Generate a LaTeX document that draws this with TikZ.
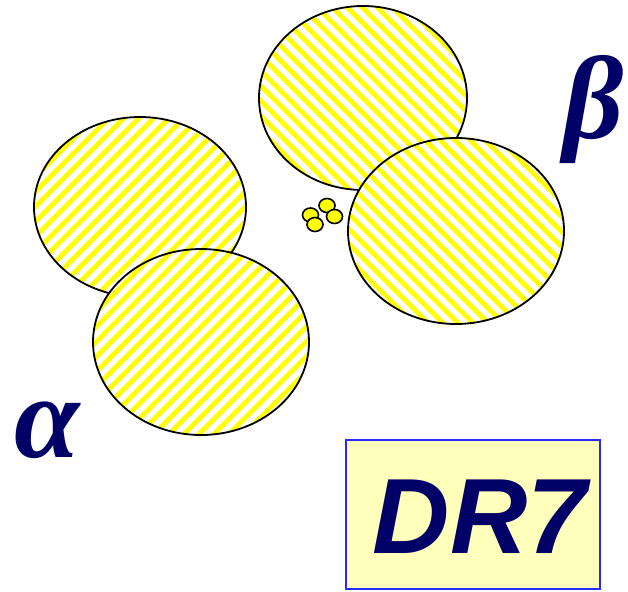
\documentclass[tikz,border=0pt]{standalone}
\usepackage{fontspec}
\setmainfont{Liberation Serif}
\setsansfont{Liberation Sans}
\usetikzlibrary{shapes.geometric}
\definecolor{navy}{RGB}{0,0,102}
\definecolor{stripe}{RGB}{255,255,0}
\definecolor{boxfill}{RGB}{255,255,187}
\definecolor{boxline}{RGB}{40,40,255}
\tikzset{
  blob/.style={ellipse, draw=black, line width=1.8pt, fill=white, inner sep=0pt},
  hatchNE/.style={path picture={
    \foreach \k in {-25,...,25}{
      \draw[stripe, line width=4.8pt] ([xshift=\k*15pt-150pt, yshift=-150pt]path picture bounding box.center) -- ++(300pt,300pt);
    }}},
  hatchNW/.style={path picture={
    \foreach \k in {-25,...,25}{
      \draw[stripe, line width=4.8pt] ([xshift=\k*15pt-150pt, yshift=150pt]path picture bounding box.center) -- ++(300pt,-300pt);
    }}},
  dot/.style={ellipse, draw=black, line width=1.6pt, fill=stripe, minimum width=16pt, minimum height=14pt, inner sep=0pt},
  greek/.style={text=navy, font=\fontsize{118}{118}\selectfont\bfseries\itshape, inner sep=0pt},
}
\begin{document}
\begin{tikzpicture}[x=1pt,y=-1pt]
\useasboundingbox (0,0) rectangle (628,591);
% left pair
\node[blob, hatchNE, minimum width=212pt, minimum height=180pt] (lt) at (140,207) {};
\node[blob, hatchNE, minimum width=216pt, minimum height=186pt] (lb) at (201,342) {};
% right pair
\node[blob, hatchNW, minimum width=208pt, minimum height=184pt] (rt) at (363,98) {};
\node[blob, hatchNW, minimum width=216pt, minimum height=186pt] (rb) at (456,231) {};
% small dots
\node[dot] (d1) at (310.5,215) {};
\node[dot] (d2) at (315,224.5) {};
\node[dot] (d3) at (327,205.5) {};
\node[dot] (d4) at (334.5,216.5) {};
% labels
\node[greek] (alpha) at (47,430) {α};
\node[greek] (beta) at (594,110) {β};
% DR7 box
\node[draw=boxline, line width=1.3pt, fill=boxfill, minimum width=254pt, minimum height=149pt, inner sep=0pt] (box) at (473,514.5) {};
\node[text=navy, font=\sffamily\bfseries\itshape\fontsize{107}{107}\selectfont, inner sep=0pt] (dr) at (480,516.5) {DR7};
\end{tikzpicture}
\end{document}
